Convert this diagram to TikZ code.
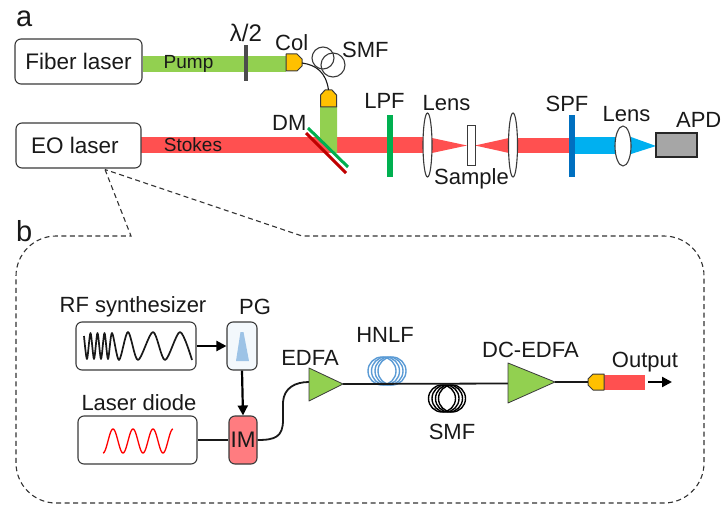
\documentclass[tikz,border=0pt]{standalone}
\usepackage{fontspec}
\setmainfont{Liberation Sans}
\usetikzlibrary{arrows.meta,shapes.geometric}
\definecolor{beamred}{HTML}{FF5050}
\definecolor{beamgreen}{HTML}{92D050}
\definecolor{beamblue}{HTML}{00B0F0}
\definecolor{connyellow}{HTML}{FFC000}
\definecolor{imred}{HTML}{FF7C80}
\definecolor{pgfill}{HTML}{F3F8FC}
\definecolor{pgblue}{HTML}{9DC3E6}
\definecolor{coilblue}{HTML}{5B9BD5}
\definecolor{edge}{HTML}{3A3A3A}
\definecolor{lpfgreen}{HTML}{00B050}
\definecolor{spfblue}{HTML}{0070C0}
\definecolor{dmred}{HTML}{C00000}
\definecolor{apdgray}{HTML}{A6A6A6}
\tikzset{
  x=1pt,y=-1pt,
  lbl/.style={anchor=base,inner sep=0pt,font=\fontsize{22}{24}\selectfont,text=black!90},
  beamlbl/.style={anchor=base,inner sep=0pt,font=\fontsize{19}{22}\selectfont,text=black!90},
  panel/.style={anchor=base west,inner sep=0pt,font=\fontsize{29}{32}\selectfont,text=black!90},
  boxnode/.style={draw=edge,line width=1.1pt,rounded corners=6pt,fill=white,inner sep=0pt,
    font=\fontsize{22.5}{24}\selectfont,text=black!90},
  lensnode/.style={ellipse,draw=edge,line width=1.1pt,fill=white,inner sep=0pt},
  conn/.style={draw=edge,line width=1pt,fill=connyellow,line join=round},
  amp/.style={draw=edge,line width=0.8pt,fill=beamgreen,line join=round},
  fibre/.style={line width=1.1pt,black!90},
  thickfibre/.style={line width=1.8pt,black!90},
  sig/.style={line width=2.2pt,black,-{Triangle[length=10pt,width=10pt]}},
  outline/.style={draw=black!80,line width=1.1pt,dash pattern=on 5pt off 3.5pt},
  coilw/.style={line width=1.4pt},
}
\begin{document}
\begin{tikzpicture}
\useasboundingbox (0,0) rectangle (722,505);
% --- beams
\fill[beamred] (141,137.5) rectangle (423,153);
\fill[beamgreen] (143,56) rectangle (286,72);
\fill[beamgreen] (320,106) -- (337,106) -- (337,153) -- (332,153) -- (320,141) -- cycle;
\fill[beamred] (432,138) -- (467,145.5) -- (432,153) -- cycle;
\fill[beamred] (475,145.5) -- (509,138) -- (509,153) -- cycle;
\fill[beamred] (517,138) rectangle (570,153);
\fill[beamblue] (575,137) rectangle (616,154);
\fill[beamblue] (631,137) -- (656,146) -- (631,154) -- cycle;
% --- panel a boxes
\node[boxnode,minimum width=127pt,minimum height=45pt] (fiber) at (78.5,61.5) {Fiber laser};
\node[boxnode,minimum width=125pt,minimum height=45pt] (eo) at (78.5,145.5) {EO laser\hspace*{7pt}};
\fill[black!70] (244.3,45) rectangle (248.3,81);
\node[beamlbl] (pump) at (188.5,69) {Pump};
\node[beamlbl] (stokes) at (193,152) {Stokes};
\node[lbl,font=\fontsize{24}{26}\selectfont] (halfwave) at (246,42) {λ/2};
% collimators and fibre
\draw[conn] (286,54) -- (297,54) -- (302,59) -- (302,66) -- (297,71) -- (286,71) -- cycle;
\draw[conn] (320.5,107) -- (320.5,95) -- (325,90) -- (332,90) -- (336.5,95) -- (336.5,107) -- cycle;
\coordinate (colout) at (302,63);
\coordinate (colin) at (328.5,90);
\draw[fibre] (colout) .. controls (316,65) and (326,72) .. (colin);
\draw[fibre,edge] (323,58) circle[radius=11];
\draw[fibre,edge] (333,65) circle[radius=12];
\node[lbl,anchor=base west] (col) at (275,51) {Col};
\node[lbl,anchor=base west] (smfa) at (342,58) {SMF};
\node[lbl,anchor=base west] (dm) at (272,131) {DM};
% dichroic
\draw[line width=3pt,color=lpfgreen] (308,128) -- (348,167);
\draw[line width=3pt,color=dmred] (306,133) -- (346,173);
% filters
\fill[lpfgreen] (386.5,115) rectangle (392.5,177);
\fill[spfblue] (569,115) rectangle (575,177);
\node[lbl] (lpf) at (384.5,109) {LPF};
\node[lbl] (spf) at (567,112) {SPF};
% lenses, sample, detector
\node[lensnode,minimum width=9pt,minimum height=64pt] (lens1) at (427.5,145) {};
\node[lensnode,minimum width=9pt,minimum height=64pt] (lens2) at (513,145) {};
\node[lensnode,minimum width=16pt,minimum height=40pt] (lens3) at (623,146) {};
\node[draw=edge,line width=1pt,fill=white,minimum width=8pt,minimum height=40pt,inner sep=0pt] (sample) at (471,146) {};
\node[draw=black!85,line width=1.5pt,fill=apdgray,minimum width=41pt,minimum height=24pt,inner sep=0pt] (apd) at (676.5,145) {};
\node[lbl] (lensa) at (446.5,111) {Lens};
\node[lbl] (samplelbl) at (471.5,185) {Sample};
\node[lbl] (lensb) at (626.5,122) {Lens};
\node[lbl,anchor=base east] (apdlbl) at (721.5,128) {APD};
% panel letters
\node[panel] (a) at (16,27) {a};
\node[panel] (b) at (16,241) {b};
% dashed call-out
\coordinate (eotip) at (105,169.5);
\draw[outline] (eotip) -- (131,236) -- (56,236) .. controls (34,236) and (16,254) .. (16,276)
  -- (16,463) .. controls (16,485) and (34,503) .. (56,503)
  -- (664,503) .. controls (686,503) and (704,485) .. (704,463)
  -- (704,276) .. controls (704,254) and (686,236) .. (664,236)
  -- (302,236) -- cycle;
% --- panel b
\node[boxnode,minimum width=120pt,minimum height=48pt] (rf) at (136,346) {};
\node[boxnode,minimum width=30pt,minimum height=48pt,fill=pgfill] (pg) at (242,346) {};
\node[boxnode,minimum width=119pt,minimum height=48pt] (ld) at (137.5,440) {};
\node[boxnode,minimum width=28pt,minimum height=48pt,fill=imred] (im) at (243,440) {IM};
\fill[pgblue] (236,361) -- (240.5,332) -- (243.5,332) -- (249,361) -- cycle;
\draw[line width=1.7pt,black!90,line join=round] plot[smooth,tension=0.5] coordinates {
  (84,336) (87,359) (90.5,333) (94,359) (97.5,333) (101,359) (104.5,333) (108,359) (112,333)
  (119,360) (128,332) (138,360) (153,332) (165,360) (180,332) (192,360)};
\draw[line width=1.3pt,red,line join=round] plot[domain=0:1,samples=120,variable=\t]
  ({103+70*\t},{441+12*cos(1260*\t)});
\draw[sig] (rf.east) -- (pg.west);
\draw[sig] (pg.south) -- (im.north);
\draw[thickfibre] (ld.east) -- (im.west);
% amplifiers
\coordinate (edfain) at (309,382);
\coordinate (edfaout) at (343,384);
\coordinate (dcin) at (508,383.5);
\coordinate (dcout) at (555,382);
\draw[thickfibre] (im.east) .. controls (275,440) and (283,437) .. (283,420)
  -- (283,402) .. controls (284,388) and (295,382) .. (edfain);
\foreach \cx in {382,385.5,389,392}{\draw[coilw,coilblue] (\cx,371) circle[radius=14];}
\foreach \cx in {442,445.5,449,452}{\draw[coilw,black] (\cx,398.5) circle[radius=13.5];}
\draw[thickfibre] (edfaout) -- (dcin);
\draw[amp] (309,368) -- (edfaout) -- (309,401) -- cycle;
\draw[amp] (508,363) -- (dcout) -- (508,403) -- cycle;
\fill[beamred] (604,375) rectangle (645,390);
\draw[conn] (604,374) -- (593,374) -- (588,379) -- (588,385) -- (593,390) -- (604,390) -- cycle;
\coordinate (outconn) at (588,382);
\draw[thickfibre] (dcout) -- (outconn);
\coordinate (arrowstart) at (648,382);
\coordinate (arrowend) at (672,382);
\draw[sig] (arrowstart) -- (arrowend);
\node[lbl] (rflbl) at (133,312) {RF synthesizer};
\node[lbl] (pglbl) at (255,314) {PG};
\node[lbl] (ldlbl) at (139,410) {Laser diode};
\node[lbl] (edfalbl) at (310,365) {EDFA};
\node[lbl] (hnlf) at (385,342) {HNLF};
\node[lbl] (smfb) at (452,439) {SMF};
\node[lbl] (dclbl) at (530.5,357) {DC-EDFA};
\node[lbl] (outlbl) at (645,367) {Output};
\end{tikzpicture}
\end{document}
